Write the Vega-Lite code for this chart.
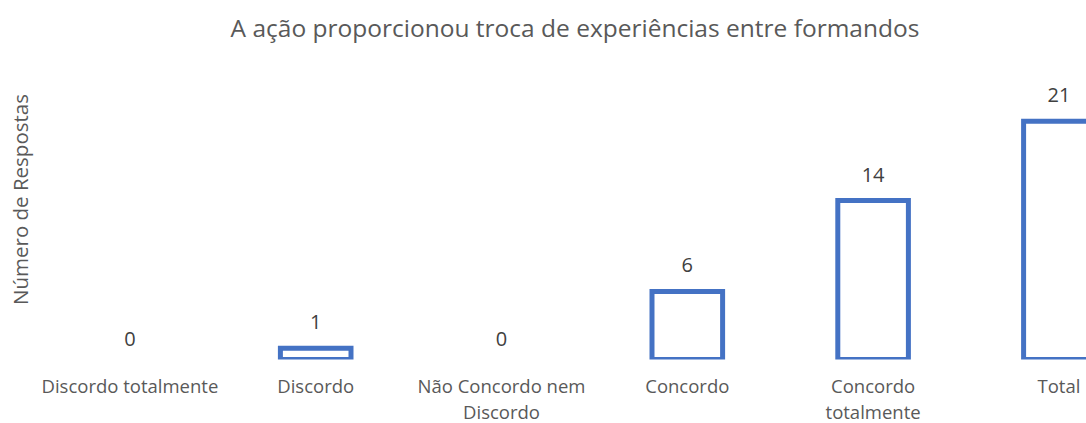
{
  "$schema": "https://vega.github.io/schema/vega-lite/v6.json",
  "autosize": "none",
  "width": 1049,
  "height": 321,
  "padding": {"left": 37, "top": 38.5, "right": 0, "bottom": 63.5},
  "background": "white",
  "title": {
    "text": "A ação proporcionou troca de experiências entre formandos",
    "anchor": "middle",
    "frame": "group",
    "font": "Open Sans",
    "fontSize": 24.5,
    "fontWeight": "normal",
    "color": "#595959",
    "baseline": "alphabetic",
    "offset": 0,
    "dx": 13.5,
    "dy": 23
  },
  "config": {"view": {"stroke": null}},
  "data": {
    "values": [
      {"categoria": "Discordo totalmente", "respostas": 0},
      {"categoria": "Discordo", "respostas": 1},
      {"categoria": "Não Concordo nem Discordo", "respostas": 0},
      {"categoria": "Concordo", "respostas": 6},
      {"categoria": "Concordo totalmente", "respostas": 14},
      {"categoria": "Total", "respostas": 21}
    ]
  },
  "encoding": {
    "x": {
      "field": "categoria",
      "type": "nominal",
      "sort": ["Discordo totalmente", "Discordo", "Não Concordo nem Discordo", "Concordo", "Concordo totalmente", "Total"],
      "scale": {"range": [0, 1114.8], "paddingInner": 0.62, "paddingOuter": 0.31},
      "axis": {
        "title": null,
        "domain": false,
        "ticks": false,
        "labelAngle": 0,
        "labelFont": "Open Sans",
        "labelFontSize": 18.5,
        "labelColor": "#595959",
        "labelPadding": 18,
        "labelLineHeight": 26,
        "labelExpr": "datum.value == 'Não Concordo nem Discordo' ? ['Não Concordo nem', 'Discordo'] : datum.value == 'Concordo totalmente' ? ['Concordo', 'totalmente'] : datum.value"
      }
    },
    "y": {
      "field": "respostas",
      "type": "quantitative",
      "scale": {"domain": [0, 28.28], "nice": false},
      "axis": {
        "title": "Número de Respostas",
        "titleFont": "Open Sans",
        "titleFontSize": 20.5,
        "titleFontWeight": "normal",
        "titleColor": "#595959",
        "titlePadding": 6,
        "domain": false,
        "ticks": false,
        "labels": false,
        "grid": false
      }
    }
  },
  "layer": [
    {
      "transform": [{"filter": "datum.respostas > 0"}],
      "mark": {"type": "bar", "fill": "white", "stroke": "#4472C4", "strokeWidth": 5, "clip": true}
    },
    {
      "transform": [{"filter": "datum.respostas > 0"}],
      "mark": {"type": "text", "dy": -25, "baseline": "middle", "font": "Open Sans", "fontSize": 20, "color": "#404040"},
      "encoding": {"text": {"field": "respostas", "type": "quantitative"}}
    },
    {
      "transform": [{"filter": "datum.respostas == 0"}],
      "mark": {"type": "text", "dy": -20, "baseline": "middle", "font": "Open Sans", "fontSize": 20, "color": "#404040"},
      "encoding": {"text": {"field": "respostas", "type": "quantitative"}}
    }
  ]
}
